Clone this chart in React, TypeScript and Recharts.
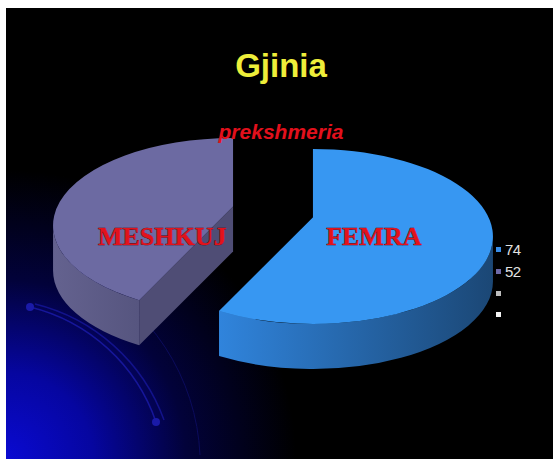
import React from 'react';
import { PieChart, Pie, Cell, Legend } from 'recharts';

// category names as they appear in the legend, and slice values
const CATEGORIES = ['74', '52', '', ''];
const VALUES = [74, 52, 0, 0];
// captions written on the slices
const SLICE_LABELS = ['FEMRA', 'MESHKUJ', '', ''];

const TITLE = 'Gjinia';
const SUBTITLE = 'prekshmeria';

// colours per slice: top face, outer wall (gradient from/to), cut face, legend key
const TOP_COLORS = ['#3797f2', '#6c6aa2', '#c0c0c0', '#f2f2f2'];
const WALL_FROM = ['#3084dc', '#64628f', '#a0a0a0', '#d0d0d0'];
const WALL_TO = ['#1b4775', '#56557f', '#808080', '#b0b0b0'];
const CUT_COLORS = ['#2a6cb4', '#4f4d75', '#909090', '#c0c0c0'];
const KEY_COLORS = ['#3a8ee8', '#6e6aa8', '#bdbdbd', '#f4f4f4'];

const data = CATEGORIES.map((name, i) => ({ name, value: VALUES[i], caption: SLICE_LABELS[i] }));

const W = 556;
const H = 462;
const CX = 273;
const CY = 231;
const RX = 180;
const TILT = 0.486; // ry / rx of the tilted disc
const DEPTH = 45;
const EXPLODE = 41.5;
const LIFT = 19; // apex sits a bit higher than the ellipse centre (fake perspective)

const rad = (d: number) => (d * Math.PI) / 180;

function rim(cx: number, cy: number, deg: number) {
  return [cx + RX * Math.cos(rad(deg)), cy - RX * TILT * Math.sin(rad(deg))];
}

function explodedCentre(cx: number, cy: number, mid: number) {
  return [cx + EXPLODE * Math.cos(rad(mid)), cy - EXPLODE * TILT * Math.sin(rad(mid))];
}

// front-facing part of the outer wall: angles where sin < 0
function frontRange(a: number, b: number): [number, number] | null {
  for (let k = -2; k <= 2; k++) {
    const lo = Math.max(a, -180 + 360 * k);
    const hi = Math.min(b, 360 * k);
    if (hi - lo > 0.01) return [lo, hi];
  }
  return null;
}

function Slice3D(props: any) {
  const { cx, cy, startAngle, endAngle, midAngle, index } = props;
  if (Math.abs(startAngle - endAngle) < 0.01) return <g />;
  const ry = RX * TILT;
  const [ex, ey] = explodedCentre(cx, cy, midAngle);
  const ax = ex;
  const ay = ey - LIFT;
  const [sx, sy] = rim(ex, ey, startAngle);
  const [fx, fy] = rim(ex, ey, endAngle);
  const large = Math.abs(startAngle - endAngle) > 180 ? 1 : 0;

  const top = `M${ax},${ay} L${sx},${sy} A${RX},${ry} 0 ${large} 1 ${fx},${fy} Z`;

  const cut = (px: number, py: number) =>
    `M${ax},${ay} L${px},${py} L${px},${py + DEPTH} L${ax},${ay + DEPTH} Z`;

  const lo = Math.min(startAngle, endAngle);
  const hi = Math.max(startAngle, endAngle);
  const fr = frontRange(lo, hi);
  let wall = null;
  if (fr) {
    const [p1x, p1y] = rim(ex, ey, fr[1]);
    const [p2x, p2y] = rim(ex, ey, fr[0]);
    const lg = fr[1] - fr[0] > 180 ? 1 : 0;
    wall = `M${p1x},${p1y} A${RX},${ry} 0 ${lg} 1 ${p2x},${p2y} L${p2x},${p2y + DEPTH} A${RX},${ry} 0 ${lg} 0 ${p1x},${p1y + DEPTH} Z`;
  }
  const gid = `wall-${index}`;

  return (
    <g>
      <defs>
        <linearGradient id={gid} x1="0" y1="0" x2="1" y2="0">
          <stop offset="0" stopColor={WALL_FROM[index]} />
          <stop offset="1" stopColor={WALL_TO[index]} />
        </linearGradient>
      </defs>
      <path d={cut(sx, sy)} fill={CUT_COLORS[index]} />
      <path d={cut(fx, fy)} fill={CUT_COLORS[index]} />
      {wall && <path d={wall} fill={`url(#${gid})`} />}
      <path d={top} fill={TOP_COLORS[index]} />
    </g>
  );
}

function SliceCaption(props: any) {
  const { cx, cy, midAngle, index } = props;
  const text = SLICE_LABELS[index];
  if (!text) return null;
  const [ex] = explodedCentre(cx, cy, midAngle);
  const x = ex + 0.38 * RX * Math.cos(rad(midAngle)) - 5;
  return (
    <text
      x={x}
      y={CY + 14}
      textAnchor="middle"
      fontFamily="'Liberation Serif', 'Times New Roman', serif"
      fontWeight="bold"
      fontSize={26}
      fill="#e3121c"
      stroke="#5a0000"
      strokeWidth={0.6}
      paintOrder="stroke"
    >
      {text}
    </text>
  );
}

// legend drawn straight from the category list, in data order
function KeyList() {
  return (
    <div style={{ fontFamily: "'Liberation Sans', Arial, sans-serif" }}>
      {CATEGORIES.map((name, i) => (
        <div key={i} style={{ height: 21.7, display: 'flex', alignItems: 'center' }}>
          <span style={{ width: 5, height: 5, background: KEY_COLORS[i], display: 'inline-block', marginRight: 4 }} />
          <span style={{ fontSize: 15, color: '#e2e2e2', letterSpacing: -0.5, lineHeight: '15px' }}>{name}</span>
        </div>
      ))}
    </div>
  );
}

export default function App() {
  return (
    <div style={{ position: 'fixed', left: 0, top: 0, width: W, height: H, background: '#fff', overflow: 'hidden' }}>
      <svg width={W} height={H} style={{ position: 'absolute', left: 0, top: 0 }}>
        <defs>
          <radialGradient id="glow" gradientUnits="userSpaceOnUse" cx={6} cy={460} r={290}>
            <stop offset="0" stopColor="#0a0ad2" />
            <stop offset="0.3" stopColor="#0606a0" />
            <stop offset="0.62" stopColor="#02023a" />
            <stop offset="1" stopColor="#000000" />
          </radialGradient>
        </defs>
        <rect x={6} y={8} width={547} height={451} fill="#000" />
        <rect x={6} y={8} width={547} height={451} fill="url(#glow)" />
        <g fill="none" stroke="#16169a" strokeWidth={1.5}>
          <path d="M30,307 A178,178 0 0 1 156,422" />
          <path d="M35,304 A184,184 0 0 1 164,420" opacity={0.8} />
          <path d="M80,272 A215,215 0 0 1 200,455" stroke="#0b0b5c" strokeWidth={1} />
        </g>
        <circle cx={30} cy={307} r={4} fill="#1a1aa8" />
        <circle cx={156} cy={422} r={4} fill="#1a1aa8" />
      </svg>

      <div style={{ position: 'absolute', left: 0, top: 0 }}>
        <PieChart width={W} height={H} margin={{ top: 0, right: 0, bottom: 0, left: 0 }}>
          <Pie
            data={data}
            dataKey="value"
            nameKey="name"
            cx={CX}
            cy={CY}
            outerRadius={RX}
            startAngle={90}
            endAngle={-270}
            stroke="none"
            shape={Slice3D}
            inactiveShape={Slice3D}
            activeShape={Slice3D}
            label={SliceCaption}
            labelLine={false}
            isAnimationActive={false}
          >
            {data.map((d, i) => (
              <Cell key={d.name + i} fill={KEY_COLORS[i]} />
            ))}
          </Pie>
          <Legend
            layout="vertical"
            align="right"
            verticalAlign="top"
            content={KeyList}
            wrapperStyle={{ left: 496, top: 239, width: 40 }}
          />
        </PieChart>
      </div>

      <svg width={W} height={H} style={{ position: 'absolute', left: 0, top: 0, pointerEvents: 'none' }}>
        <text x={281} y={77} textAnchor="middle" fontFamily="'Liberation Sans', Arial, sans-serif" fontWeight="bold" fontSize={33} fill="#eeee3a">
          {TITLE}
        </text>
        <text x={281} y={139} textAnchor="middle" fontFamily="'Liberation Sans', Arial, sans-serif" fontWeight="bold" fontStyle="italic" fontSize={21} fill="#e2101c">
          {SUBTITLE}
        </text>
      </svg>
    </div>
  );
}
